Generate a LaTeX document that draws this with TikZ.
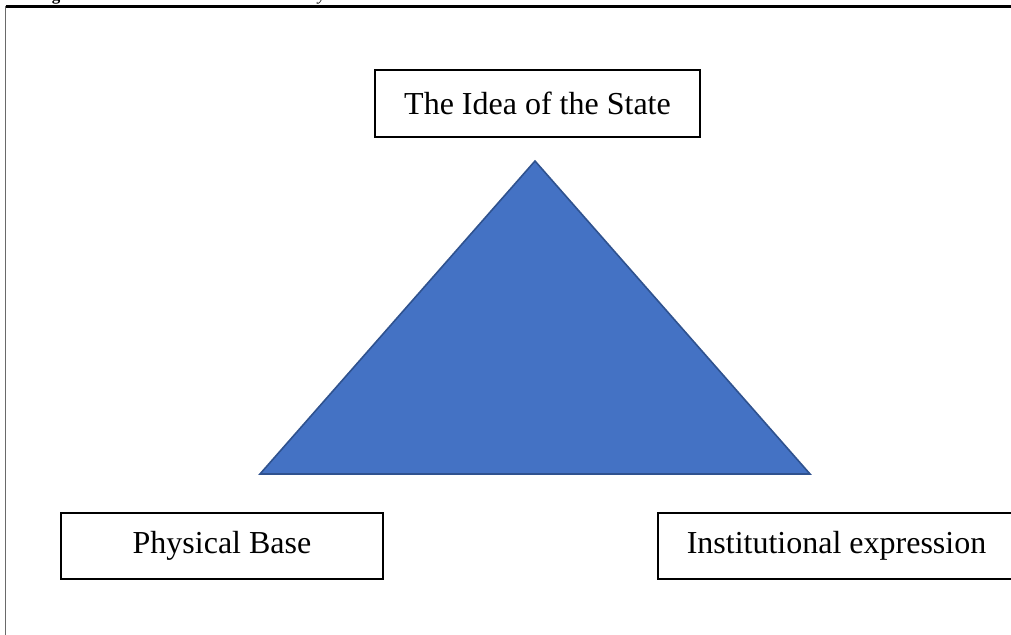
\documentclass[tikz,border=0pt]{standalone}
\usepackage{fontspec}
\setmainfont{Liberation Serif}
\definecolor{triFill}{HTML}{4472C4}
\definecolor{triEdge}{HTML}{2F528F}
\definecolor{frameGray}{HTML}{6A6A6A}
\tikzset{
  labelbox/.style={draw=black, line width=1.3pt, fill=white, inner sep=0pt,
    font=\fontsize{32}{38}\selectfont, text=black, anchor=center},
  frag/.style={inner sep=0pt, anchor=base, font=\fontsize{17}{20}\selectfont}
}
\begin{document}
\begin{tikzpicture}[x=1pt,y=-1pt]
\useasboundingbox (0,0) rectangle (1011,634);
% cut-off caption fragments
\node[frag] (fragg) at (56,0.5) {\textbf{g}};
\node[frag] (fragy) at (322,0.5) {\textit{y}};
% outer frame
\coordinate (ftl) at (5.5,6.5);
\coordinate (ftr) at (1020,6.5);
\coordinate (fbl) at (5.5,640);
\draw[black, line width=2.2pt] (ftl) -- (ftr);
\draw[frameGray, line width=1.6pt] (ftl) -- (fbl);
% triangle
\coordinate (apex) at (535,161);
\coordinate (bl) at (260,474);
\coordinate (br) at (810,474);
\draw[triEdge, line width=1.6pt, fill=triFill, line join=miter] (apex) -- (br) -- (bl) -- cycle;
% boxes
\node[labelbox, minimum width=325pt, minimum height=67pt] (idea) at (537.5,103.5) {The Idea of the State};
\node[labelbox, minimum width=322pt, minimum height=66pt] (phys) at (222,546) {Physical Base};
\node[labelbox, minimum width=357pt, minimum height=66pt] (inst) at (836.5,546) {Institutional expression};
\end{tikzpicture}
\end{document}
